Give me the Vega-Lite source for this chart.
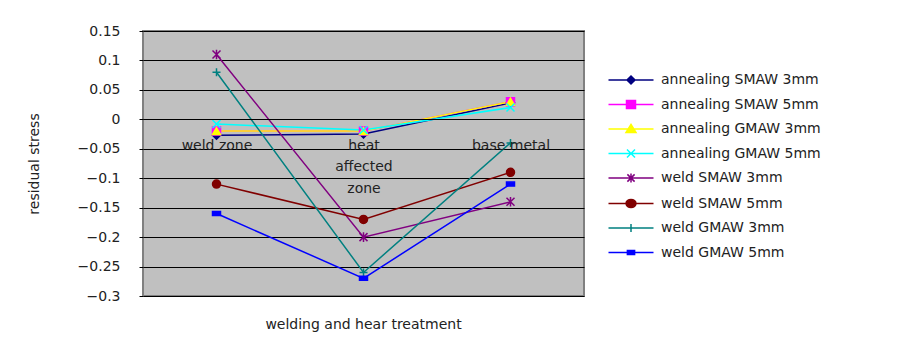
{
  "$schema": "https://vega.github.io/schema/vega-lite/v6.json",
  "width": 441,
  "height": 265,
  "autosize": {"type": "none"},
  "padding": {"left": 143, "top": 31, "right": 319, "bottom": 51},
  "background": "white",
  "config": {
    "view": {"fill": "#C0C0C0", "stroke": "#808080", "strokeWidth": 2},
    "font": "DejaVu Sans"
  },
  "title": {"text": "welding and hear treatment", "orient": "bottom", "anchor": "middle", "fontSize": 14, "fontWeight": "normal", "color": "#222222", "offset": 15},
  "resolve": {"legend": {"color": "independent", "shape": "independent", "stroke": "independent"}},
  "data": {
    "values": [
      {"series": "annealing SMAW 3mm", "zone": "weld zone", "step": 1, "stress": -0.027},
      {"series": "annealing SMAW 3mm", "zone": "heat affected zone", "step": 2, "stress": -0.025},
      {"series": "annealing SMAW 3mm", "zone": "base metal", "step": 3, "stress": 0.028},
      {"series": "annealing SMAW 5mm", "zone": "weld zone", "step": 1, "stress": -0.02},
      {"series": "annealing SMAW 5mm", "zone": "heat affected zone", "step": 2, "stress": -0.02},
      {"series": "annealing SMAW 5mm", "zone": "base metal", "step": 3, "stress": 0.03},
      {"series": "annealing GMAW 3mm", "zone": "weld zone", "step": 1, "stress": -0.02},
      {"series": "annealing GMAW 3mm", "zone": "heat affected zone", "step": 2, "stress": -0.02},
      {"series": "annealing GMAW 3mm", "zone": "base metal", "step": 3, "stress": 0.03},
      {"series": "annealing GMAW 5mm", "zone": "weld zone", "step": 1, "stress": -0.008},
      {"series": "annealing GMAW 5mm", "zone": "heat affected zone", "step": 2, "stress": -0.018},
      {"series": "annealing GMAW 5mm", "zone": "base metal", "step": 3, "stress": 0.02},
      {"series": "weld SMAW 3mm", "zone": "weld zone", "step": 1, "stress": 0.11},
      {"series": "weld SMAW 3mm", "zone": "heat affected zone", "step": 2, "stress": -0.2},
      {"series": "weld SMAW 3mm", "zone": "base metal", "step": 3, "stress": -0.14},
      {"series": "weld SMAW 5mm", "zone": "weld zone", "step": 1, "stress": -0.11},
      {"series": "weld SMAW 5mm", "zone": "heat affected zone", "step": 2, "stress": -0.17},
      {"series": "weld SMAW 5mm", "zone": "base metal", "step": 3, "stress": -0.09},
      {"series": "weld GMAW 3mm", "zone": "weld zone", "step": 1, "stress": 0.08},
      {"series": "weld GMAW 3mm", "zone": "heat affected zone", "step": 2, "stress": -0.26},
      {"series": "weld GMAW 3mm", "zone": "base metal", "step": 3, "stress": -0.04},
      {"series": "weld GMAW 5mm", "zone": "weld zone", "step": 1, "stress": -0.16},
      {"series": "weld GMAW 5mm", "zone": "heat affected zone", "step": 2, "stress": -0.27},
      {"series": "weld GMAW 5mm", "zone": "base metal", "step": 3, "stress": -0.11}
    ]
  },
  "encoding": {
    "x": {
      "field": "zone",
      "type": "nominal",
      "sort": ["weld zone", "heat affected zone", "base metal"],
      "scale": {"padding": 0.5},
      "axis": {
        "orient": "bottom",
        "offset": -177,
        "title": null,
        "labelAngle": 0,
        "labelFontSize": 14,
        "labelColor": "#222222",
        "labelPadding": 19,
        "labelBaseline": "top",
        "labelLineHeight": 21.5,
        "ticks": false,
        "domain": true,
        "domainColor": "black",
        "zindex": 1,
        "labelExpr": "datum.label == 'heat affected zone' ? ['heat', 'affected', 'zone'] : datum.label"
      }
    },
    "y": {
      "field": "stress",
      "type": "quantitative",
      "scale": {"domain": [-0.3, 0.15], "nice": false, "zero": false},
      "axis": {
        "values": [-0.3, -0.25, -0.2, -0.15, -0.1, -0.05, 0, 0.05, 0.1, 0.15],
        "format": ".2~f",
        "labelFontSize": 14,
        "labelColor": "#222222",
        "grid": true,
        "gridColor": "black",
        "gridWidth": 1,
        "gridOpacity": 1,
        "domain": false,
        "tickColor": "black",
        "tickSize": 4,
        "labelPadding": 19,
        "title": "residual stress",
        "titleFontSize": 14,
        "titleFontWeight": "normal",
        "titleColor": "#222222",
        "titlePadding": 36
      }
    }
  },
  "layer": [
    {
      "mark": {"type": "line", "strokeWidth": 1.5},
      "encoding": {
        "order": {"field": "step", "type": "quantitative"},
        "color": {
          "field": "series",
          "type": "nominal",
          "scale": {
            "domain": ["annealing SMAW 3mm", "annealing SMAW 5mm", "annealing GMAW 3mm", "annealing GMAW 5mm", "weld SMAW 3mm", "weld SMAW 5mm", "weld GMAW 3mm", "weld GMAW 5mm"],
            "range": ["#000080", "#FF00FF", "#FFFF00", "#00FFFF", "#800080", "#800000", "#008080", "#0000FF"]
          },
          "legend": {
            "orient": "none",
            "legendX": 477,
            "legendY": 38,
            "title": null,
            "labelFontSize": 14,
            "labelColor": "#222222",
            "labelOffset": 19,
            "symbolSize": 400,
            "symbolStrokeWidth": 1.5,
            "rowPadding": 6.5,
            "encode": {
              "symbols": {
                "update": {
                  "shape": {"signal": "['M-2.25,0L2.25,0M0,-0.4L0.4,0L0,0.4L-0.4,0Z', 'M-2.25,0L2.25,0M-0.45,-0.4L0.45,-0.4L0.45,0.4L-0.45,0.4Z', 'M-2.25,0L2.25,0M0,-0.45L0.5,0.36L-0.5,0.36Z', 'M-2.25,0L2.25,0M-0.4,-0.4L0.4,0.4M-0.4,0.4L0.4,-0.4', 'M-2.25,0L2.25,0M-0.36,-0.36L0.36,0.36M-0.36,0.36L0.36,-0.36M0,-0.45L0,0.45', 'M-2.25,0L2.25,0M0.5,0A0.5,0.4,0,1,1,-0.5,0A0.5,0.4,0,1,1,0.5,0Z', 'M-2.25,0L2.25,0M0,-0.4L0,0.4', 'M-2.25,0L2.25,0M-0.36,-0.2L0.36,-0.2L0.36,0.2L-0.36,0.2Z'][indexof(['annealing SMAW 3mm', 'annealing SMAW 5mm', 'annealing GMAW 3mm', 'annealing GMAW 5mm', 'weld SMAW 3mm', 'weld SMAW 5mm', 'weld GMAW 3mm', 'weld GMAW 5mm'], datum.value)]"},
                  "fill": {"scale": "color", "field": "value"},
                  "stroke": {"scale": "color", "field": "value"},
                  "opacity": {"value": 1},
                  "strokeWidth": {"value": 1.5}
                }
              }
            }
          }
        }
      }
    },
    {
      "mark": {"type": "point", "filled": true, "size": 64, "strokeWidth": 1.5, "opacity": 1},
      "encoding": {
        "color": {"field": "series", "type": "nominal", "legend": null},
        "stroke": {
          "field": "series",
          "type": "nominal",
          "legend": null,
          "scale": {
            "domain": ["annealing SMAW 3mm", "annealing SMAW 5mm", "annealing GMAW 3mm", "annealing GMAW 5mm", "weld SMAW 3mm", "weld SMAW 5mm", "weld GMAW 3mm", "weld GMAW 5mm"],
            "range": ["#000080", "#FF00FF", "#FFFF00", "#00FFFF", "#800080", "#800000", "#008080", "#0000FF"]
          }
        },
        "shape": {
          "field": "series",
          "type": "nominal",
          "legend": null,
          "scale": {
            "domain": ["annealing SMAW 3mm", "annealing SMAW 5mm", "annealing GMAW 3mm", "annealing GMAW 5mm", "weld SMAW 3mm", "weld SMAW 5mm", "weld GMAW 3mm", "weld GMAW 5mm"],
            "range": ["M0,-1L1,0L0,1L-1,0Z", "square", "triangle-up", "M-1,-1L1,1M-1,1L1,-1", "M-1,-1L1,1M-1,1L1,-1M0,-1.2L0,1.2", "circle", "M0,-1L0,1M-1,0L1,0", "M-1,-0.5L1,-0.5L1,0.5L-1,0.5Z"]
          }
        }
      }
    }
  ]
}
